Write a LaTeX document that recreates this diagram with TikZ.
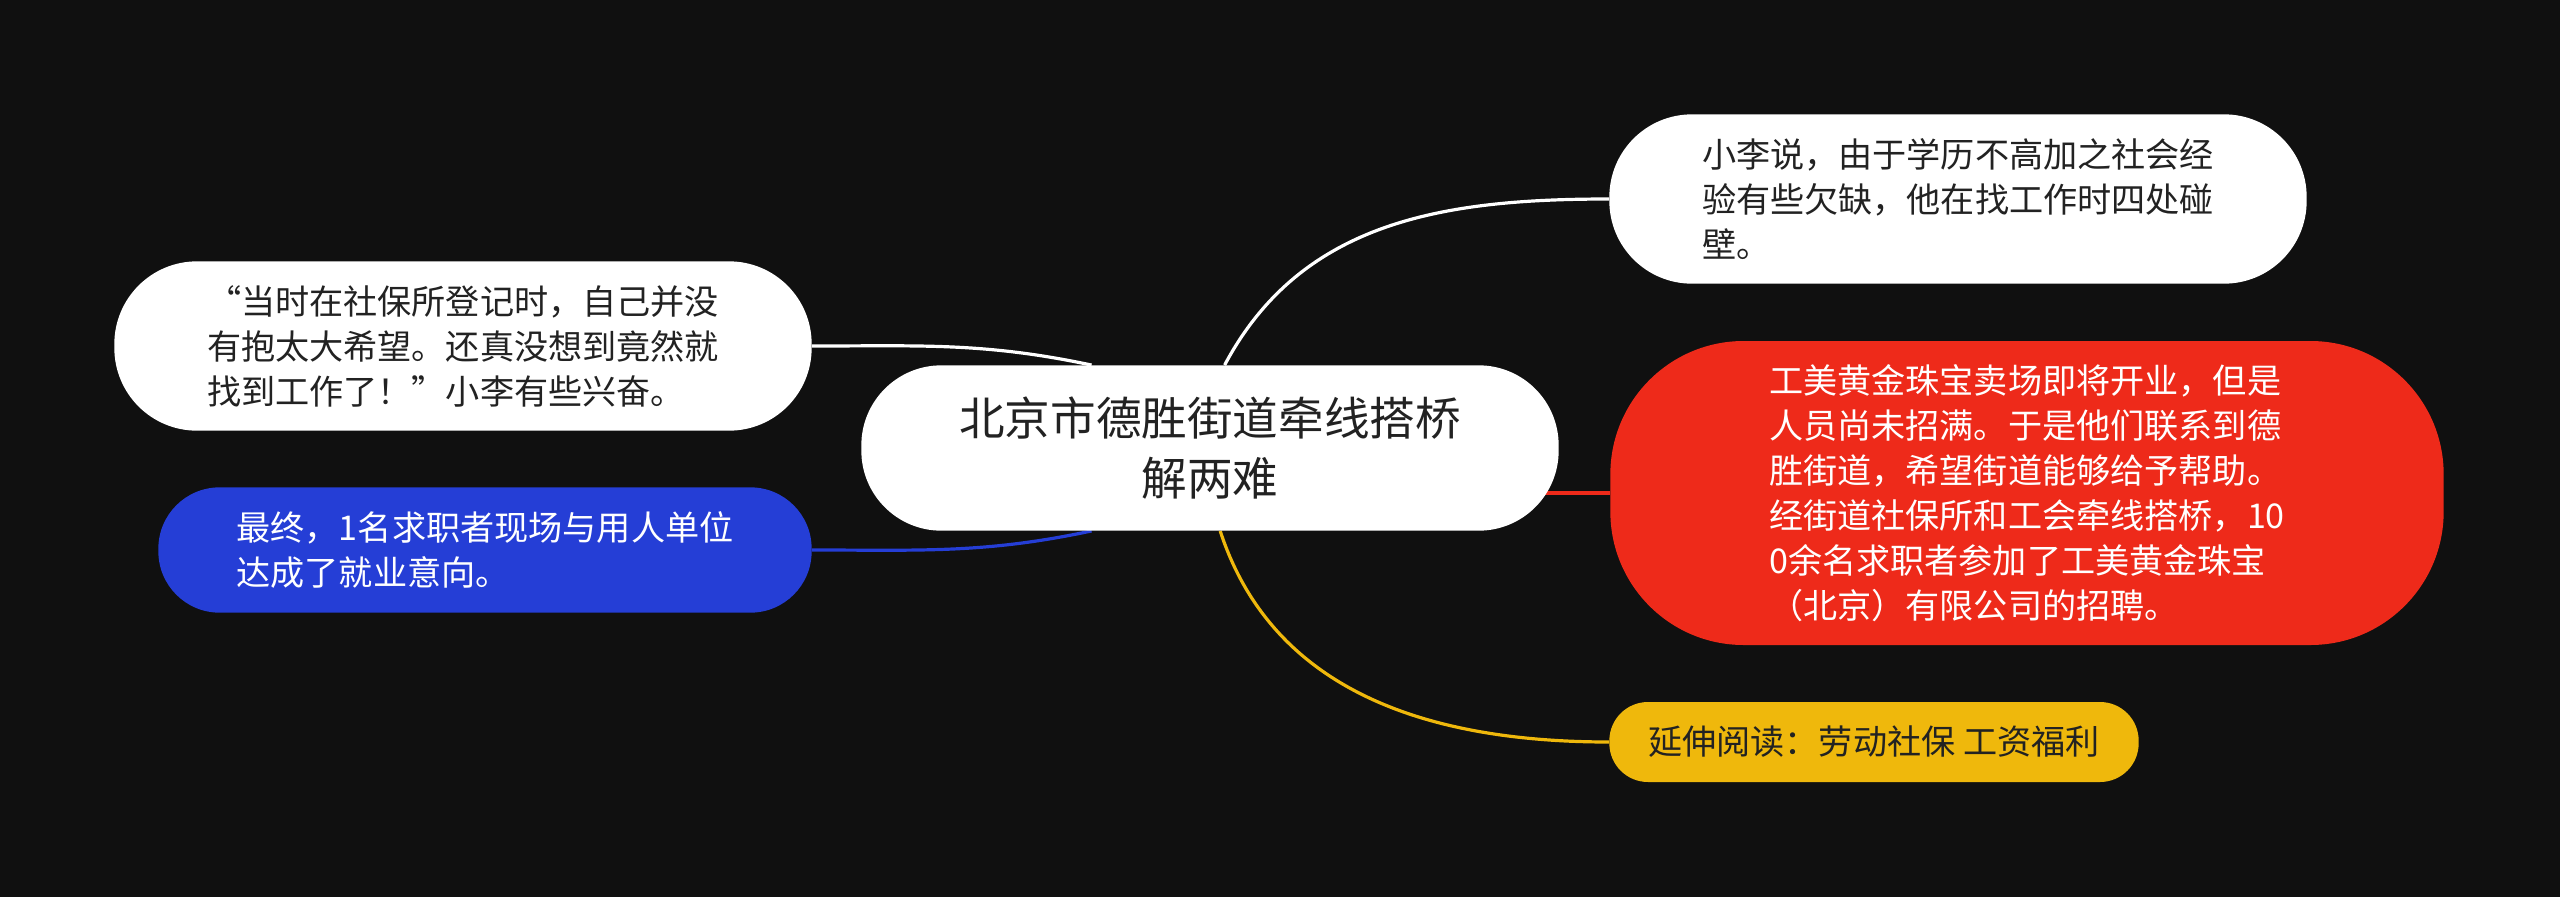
\documentclass[tikz,border=0pt]{standalone}
\usepackage{fontspec}
\usepackage{tikz}
\usetikzlibrary{backgrounds}
\newfontfamily\cjk{Noto Sans CJK SC}
\definecolor{bgdark}{RGB}{16,16,16}
\definecolor{textdark}{RGB}{34,34,34}
\definecolor{topicred}{RGB}{238,42,26}
\definecolor{topicblue}{RGB}{37,62,214}
\definecolor{topicyellow}{RGB}{239,184,12}

\begin{document}
\begin{tikzpicture}[x=0.75pt,y=-0.75pt,
    topic/.style={align=left,inner sep=0pt,text=textdark,
      font=\cjk\fontsize{25.6}{33.8}\selectfont},
    link/.style={line width=2.4pt}]
            % central topic
            \node[fill=white,text=textdark,align=center,inner sep=0pt,
              minimum width=523pt,minimum height=124pt,rounded corners=60pt,
              font=\cjk\fontsize{34.2}{45}\selectfont] (title) at (1210,448)
              {北京市德胜街道牵线搭桥\\解两难};
            % branches
            \node[topic,fill=white,minimum width=523pt,minimum height=127pt,
              rounded corners=62pt] (lisay) at (1958,199)
              {小李说，由于学历不高加之社会经\\验有些欠缺，他在找工作时四处碰\\壁。};
            \node[topic,fill=topicred,text=white,minimum width=625pt,
              minimum height=228pt,rounded corners=100pt] (store) at (2027,493)
              {工美黄金珠宝卖场即将开业，但是\\人员尚未招满。于是他们联系到德\\胜街道，希望街道能够给予帮助。\\经街道社保所和工会牵线搭桥，10\\0余名求职者参加了工美黄金珠宝\\（北京）有限公司的招聘。};
            \node[topic,fill=topicyellow,minimum width=397pt,minimum height=60pt,
              rounded corners=29pt] (more) at (1874,742)
              {延伸阅读：劳动社保 工资福利};
            \node[topic,fill=white,minimum width=523pt,minimum height=127pt,
              rounded corners=62pt] (quote) at (463,346)
              {“当时在社保所登记时，自己并没\\有抱太大希望。还真没想到竟然就\\找到工作了！”小李有些兴奋。};
            \node[topic,fill=topicblue,text=white,minimum width=490pt,
              minimum height=94pt,rounded corners=46pt] (final) at (485,550)
              {最终，1名求职者现场与用人单位\\达成了就业意向。};
            % page and connectors behind the nodes
            \begin{pgfonlayer}{background}
            \fill[bgdark] (0,0) rectangle (2560,897);
            \draw[link,white] (title.80) to[out=62,in=180] (lisay.west);
            \draw[link,topicred] (title.center |- store.west) -- (store.west);
            \draw[link,topicyellow] (title.-83) to[out=-72,in=180] (more.west);
            \draw[link,white] (quote.east) to[out=0,in=168] (title.145);
            \draw[link,topicblue] (final.east) to[out=0,in=192] (title.215);
            \end{pgfonlayer}
        \end{tikzpicture}
\end{document}
